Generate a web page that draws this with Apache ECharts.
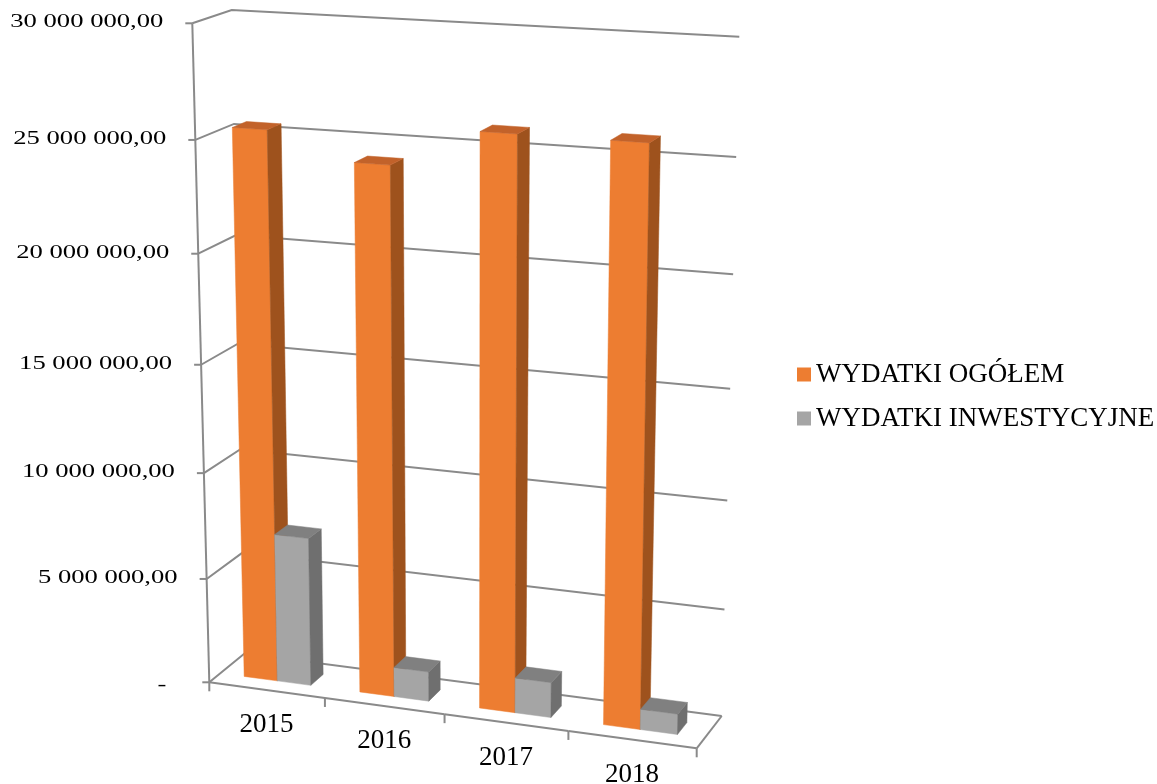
<!DOCTYPE html>
<html>
<head>
<meta charset="utf-8">
<title>Wydatki</title>
<script src="https://cdn.jsdelivr.net/npm/echarts@6.0.0/dist/echarts.min.js"></script>
<style>
	html, body { margin: 0; padding: 0; background: #fff; }
	#chartDiv { width: 1157px; height: 784px; }
</style>
</head>
<body>
<div id="chartDiv"></div>
<script>
// dane
const years = ['2015', '2016', '2017', '2018'];
const wydatkiOgolem = [25400000, 24250000, 25950000, 25950000];
const wydatkiInwestycyjne = [7050000, 1400000, 1650000, 950000];
const tickValues = [0, 5000000, 10000000, 15000000, 20000000, 25000000, 30000000];
const tickLabels = ['-', '5 000 000,00', '10 000 000,00', '15 000 000,00', '20 000 000,00', '25 000 000,00', '30 000 000,00'];

// rzut "3D" - narozniki prostopadloscianu wykresu (przod w=0, tyl w=1)
const FRONT = { b0: [209.3, 682.3], b1: [696.7, 748.3], t0: [192.3, 23.3], t1: [710, 53.7] };
const BACK = { b0: [244.5, 653.5], b1: [721.7, 716], t0: [231.7, 10], t1: [739.3, 36.7] };
const KU = -0.067, KV = -0.07;
const lineColor = '#8a8a8a';

// szerokosc etykiety osi Y w oryginale (tekst rozciagniety w poziomie)
const labelFont = '19px "Liberation Serif"';
let measureCtx = document.createElement('canvas').getContext('2d');
measureCtx.font = labelFont;
const labelScale = 153 / measureCtx.measureText('30 000 000,00').width;

let lerp = (a, b, t) => [a[0] + (b[0] - a[0]) * t, a[1] + (b[1] - a[1]) * t];
let proj = (u, v, w) => {
	u = u * (1 + KU) / (1 + KU * u);
	v = v * (1 + KV) / (1 + KV * v);
	let f = lerp(lerp(FRONT.b0, FRONT.b1, u), lerp(FRONT.t0, FRONT.t1, u), v);
	let b = lerp(lerp(BACK.b0, BACK.b1, u), lerp(BACK.t0, BACK.t1, u), v);
	return lerp(f, b, w);
};

// polozenie w ukladzie (0..1) z osi echarts
let toUnit = (params, api, idx, val) => {
	let cs = params.coordSys;
	let c = api.coord([idx, val]);
	return {
		u: (c[0] - cs.x) / cs.width,
		v: (cs.y + cs.height - c[1]) / cs.height,
		band: api.size([1, 0])[0] / cs.width
	};
};

let line = (a, b) => ({
	type: 'line',
	shape: { x1: a[0], y1: a[1], x2: b[0], y2: b[1] },
	style: { stroke: lineColor, lineWidth: 2 }
});

let renderFrame = (params, api) => {
	let p = toUnit(params, api, 0, api.value(1));
	let v = p.v;
	let a = proj(0, v, 0);
	let children = [{
		type: 'polyline',
		shape: { points: [a, proj(0, v, 1), proj(1, v, 1)] },
		style: { stroke: lineColor, lineWidth: 2, fill: null }
	}, line(a, [a[0] - 7, a[1]])];
	let label = tickLabels[params.dataIndex];
	let isDash = label === '-';
	children.push({
		type: 'text',
		x: a[0] - (isDash ? 43 : 29),
		y: a[1] + (isDash ? 3 : -1),
		scaleX: labelScale,
		style: {
			text: label,
			x: 0,
			y: 0,
			align: 'right',
			verticalAlign: 'middle',
			font: labelFont,
			fill: '#000'
		}
	});
	if (params.dataIndex === 0) {
		children.push(line(proj(0, 0, 0), proj(0, 1, 0)));
	}
	return { type: 'group', children: children };
};

let renderFloor = (params, api) => {
	let p = toUnit(params, api, api.value(0), 0);
	let uL = p.u - p.band / 2, uR = p.u + p.band / 2;
	let a = proj(uL, 0, 0), b = proj(uR, 0, 0), c = proj(p.u, 0, 0);
	let children = [line(a, b), line(a, [a[0], a[1] + 9])];
	if (params.dataIndex === years.length - 1) {
		children.push(line(b, [b[0], b[1] + 9]));
		children.push(line(b, proj(uR, 0, 1)));
	}
	children.push({
		type: 'text',
		style: {
			text: years[params.dataIndex],
			x: c[0],
			y: c[1] + 35,
			align: 'center',
			verticalAlign: 'middle',
			font: '27px "Liberation Serif"',
			fill: '#000'
		}
	});
	return { type: 'group', children: children };
};

let renderBar = (from, to, colors) => (params, api) => {
	let p = toUnit(params, api, api.value(0), api.value(1));
	let u1 = p.u - p.band / 2 + p.band * from;
	let u2 = p.u - p.band / 2 + p.band * to;
	let v = p.v, w1 = 0.315, w2 = 0.685;
	let face = (pts, fill) => ({
		type: 'polygon',
		shape: { points: pts },
		style: { fill: fill, stroke: fill, lineWidth: 0.5 }
	});
	return {
		type: 'group',
		children: [
			face([proj(u1, 0, w1), proj(u2, 0, w1), proj(u2, v, w1), proj(u1, v, w1)], colors[0]),
			face([proj(u2, 0, w1), proj(u2, 0, w2), proj(u2, v, w2), proj(u2, v, w1)], colors[1]),
			face([proj(u1, v, w1), proj(u2, v, w1), proj(u2, v, w2), proj(u1, v, w2)], colors[2])
		]
	};
};

let chart = echarts.init(document.getElementById('chartDiv'));
let option = {
	animation: false,
	grid: { left: 0, right: 0, top: 0, bottom: 0, containLabel: false },
	xAxis: { type: 'category', data: years, show: false },
	yAxis: { type: 'value', min: 0, max: 30000000, interval: 5000000, show: false },
	legend: {
		data: ['WYDATKI OGÓŁEM', 'WYDATKI INWESTYCYJNE'],
		orient: 'vertical',
		left: 797,
		top: 361,
		padding: 0,
		itemWidth: 14,
		itemHeight: 14,
		itemGap: 17,
		icon: 'rect',
		selectedMode: false,
		textStyle: { fontFamily: 'Liberation Serif', fontSize: 27, color: '#000' }
	},
	series: [{
		name: 'frame',
		type: 'custom',
		renderItem: renderFrame,
		data: tickValues.map(t => [0, t]),
		silent: true,
		z: 1
	}, {
		name: 'floor',
		type: 'custom',
		renderItem: renderFloor,
		data: years.map((y, i) => [i, 0]),
		silent: true,
		z: 1
	}, {
		name: 'WYDATKI OGÓŁEM',
		type: 'custom',
		renderItem: renderBar(0.21, 0.5, ['#ED7D31', '#9E521D', '#C2622A']),
		itemStyle: { color: '#ED7D31' },
		data: wydatkiOgolem.map((v, i) => [i, v]),
		z: 2
	}, {
		name: 'WYDATKI INWESTYCYJNE',
		type: 'custom',
		renderItem: renderBar(0.5, 0.79, ['#A5A5A5', '#6F6F6F', '#808080']),
		itemStyle: { color: '#A5A5A5' },
		data: wydatkiInwestycyjne.map((v, i) => [i, v]),
		z: 3
	}]
};
chart.setOption(option);
</script>
</body>
</html>
